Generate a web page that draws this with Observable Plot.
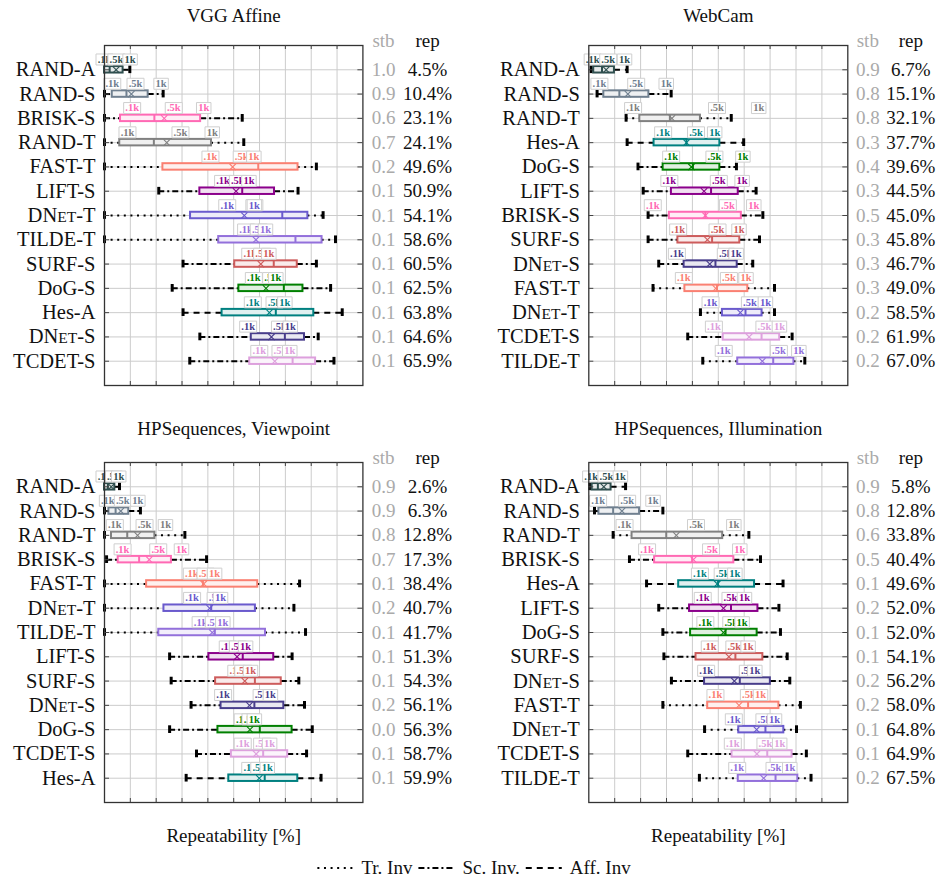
<!DOCTYPE html>
<html>
<head>
<meta charset="utf-8">
<script src="https://cdn.jsdelivr.net/npm/d3@7"></script>
<script src="https://cdn.jsdelivr.net/npm/@observablehq/plot@0.6"></script>
<style>
  html, body { margin: 0; padding: 0; background: #fff; }
  #fig { position: relative; width: 948px; height: 878px; font-family: "Liberation Serif", serif; }
  #fig svg { position: absolute; }
</style>
</head>
<body>
<div id="fig"></div>
<script>
// ---------- method colours ----------
const methodNames  = ["RAND-A","RAND-S","RAND-T","BRISK-S","FAST-T","LIFT-S","DNet-T","TILDE-T","SURF-S","DoG-S","Hes-A","DNet-S","TCDET-S"];
const methodColors = ["#2f4f4f","#708090","#808080","#ff69b4","#fa8072","#8b008b","#6a5acd","#9370db","#cd5c5c","#008000","#008080","#483d8b","#dda0dd"];

// ---------- VGG Affine ----------
const vggMethods = ["RAND-A","RAND-S","BRISK-S","RAND-T","FAST-T","LIFT-S","DNet-T","TILDE-T","SURF-S","DoG-S","Hes-A","DNet-S","TCDET-S"];
const vggLow  = [0, 0, 0, 0, 0, 21.0, 0, 0, 30.4, 26.2, 30.4, 36.9, 33.0];
const vggQ1   = [0, 3.0, 6.2, 5.9, 22.6, 36.9, 33.3, 44.2, 50.4, 52.0, 45.5, 56.8, 56.2];
const vggMed  = [2.0, 8.5, 19.3, 19.1, 59.5, 53.3, 68.8, 73.9, 65.5, 69.4, 66.3, 69.8, 72.8];
const vggQ3   = [7.2, 16.9, 37.2, 41.4, 74.9, 65.8, 78.7, 84.2, 74.6, 76.8, 81.0, 77.4, 81.7];
const vggHigh = [9.8, 22.7, 53.3, 53.9, 82.0, 74.9, 84.6, 89.4, 82.0, 87.5, 92.0, 82.7, 88.8];
const vggK01  = [0, 3.0, 10.7, 8.9, 41.0, 45.9, 47.5, 54.8, 56.4, 57.8, 57.4, 55.6, 59.9];
const vggK05  = [4.6, 12.0, 26.8, 29.4, 53.1, 51.6, 58.0, 59.7, 61.0, 64.5, 65.8, 67.9, 68.1];
const vggK10  = [9.9, 21.9, 38.4, 41.7, 57.8, 55.9, 58.0, 62.3, 63.6, 66.3, 69.8, 71.9, 71.7];
const vggStb  = [1.0, 0.9, 0.6, 0.7, 0.2, 0.1, 0.1, 0.1, 0.1, 0.1, 0.1, 0.1, 0.1];
const vggRep  = [4.5, 10.4, 23.1, 24.1, 49.6, 50.9, 54.1, 58.6, 60.5, 62.5, 63.8, 64.6, 65.9];

// ---------- WebCam ----------
const webMethods = ["RAND-A","RAND-S","RAND-T","Hes-A","DoG-S","LIFT-S","BRISK-S","SURF-S","DNet-S","FAST-T","DNet-T","TCDET-S","TILDE-T"];
const webLow  = [0.9, 3.2, 14.4, 14.8, 19.0, 21.0, 22.9, 22.9, 27.0, 24.8, 43.1, 38.2, 44.0];
const webQ1   = [1.9, 5.8, 19.7, 25.2, 28.7, 31.9, 31.1, 34.4, 36.8, 37.1, 51.6, 51.9, 57.5];
const webMed  = [5.1, 11.8, 31.3, 37.7, 40.2, 47.2, 45.0, 47.6, 48.9, 49.5, 60.5, 66.7, 71.2];
const webQ3   = [9.9, 23.2, 43.1, 50.6, 50.6, 57.7, 58.9, 58.3, 57.3, 61.4, 66.9, 73.7, 79.2];
const webHigh = [14.8, 31.8, 55.0, 59.8, 57.0, 64.6, 67.2, 65.9, 63.3, 71.7, 71.7, 78.5, 83.4];
const webK01  = [1.5, 4.1, 17.1, 28.7, 31.8, 31.1, 24.7, 34.5, 34.0, 36.7, 47.0, 48.3, 52.1];
const webK05  = [7.5, 18.3, 49.5, 41.4, 48.5, 50.2, 53.7, 49.7, 52.9, 54.1, 62.2, 67.8, 73.4];
const webK10  = [13.8, 29.9, 65.6, 48.6, 59.5, 59.2, 63.7, 58.0, 56.9, 60.7, 68.2, 73.6, 81.1];
const webStb  = [0.9, 0.8, 0.8, 0.3, 0.4, 0.3, 0.5, 0.3, 0.3, 0.3, 0.2, 0.2, 0.2];
const webRep  = [6.7, 15.1, 32.1, 37.7, 39.6, 44.5, 45.0, 45.8, 46.7, 49.0, 58.5, 61.9, 67.0];

// ---------- HPSequences, Viewpoint ----------
const vpMethods = ["RAND-A","RAND-S","RAND-T","BRISK-S","FAST-T","DNet-T","TILDE-T","LIFT-S","SURF-S","DNet-S","DoG-S","TCDET-S","Hes-A"];
const vpLow  = [0, 0, 0, 0.8, 0, 0, 0, 25.2, 25.8, 33.5, 25.2, 35.6, 31.6];
const vpQ1   = [0, 1.7, 2.7, 5.3, 16.3, 23.0, 21.0, 40.4, 43.0, 45.1, 43.9, 49.1, 48.1];
const vpMed  = [1.3, 4.3, 8.8, 13.4, 38.1, 41.3, 42.7, 53.5, 58.2, 58.0, 60.1, 61.4, 62.0];
const vpQ3   = [4.0, 9.4, 19.5, 25.9, 59.3, 58.4, 62.3, 65.5, 68.4, 69.4, 72.6, 70.9, 74.8];
const vpHigh = [5.8, 13.9, 31.1, 39.5, 75.5, 73.3, 77.8, 72.6, 75.2, 77.4, 80.4, 78.2, 83.8];
const vpK01  = [0, 1.3, 4.0, 7.0, 33.8, 33.9, 37.2, 47.7, 51.0, 45.9, 53.5, 53.5, 56.4];
const vpK05  = [3.6, 7.1, 15.5, 20.8, 39.1, 43.0, 42.3, 51.6, 53.7, 60.8, 56.5, 61.0, 59.9];
const vpK10  = [5.5, 12.9, 23.6, 29.8, 42.6, 44.9, 45.8, 54.6, 56.5, 64.2, 58.0, 63.9, 63.0];
const vpStb  = [0.9, 0.9, 0.8, 0.7, 0.1, 0.2, 0.1, 0.1, 0.1, 0.2, 0.0, 0.1, 0.1];
const vpRep  = [2.6, 6.3, 12.8, 17.3, 38.4, 40.7, 41.7, 51.3, 54.3, 56.1, 56.3, 58.7, 59.9];

// ---------- HPSequences, Illumination ----------
const ilMethods = ["RAND-A","RAND-S","RAND-T","BRISK-S","Hes-A","LIFT-S","DoG-S","SURF-S","DNet-S","FAST-T","DNet-T","TCDET-S","TILDE-T"];
const ilLow  = [0.3, 2.2, 9.4, 15.7, 22.3, 27.0, 28.6, 29.0, 31.9, 28.6, 44.7, 38.2, 42.7];
const ilQ1   = [1.3, 3.9, 16.7, 25.4, 34.7, 38.9, 39.3, 41.4, 44.7, 45.9, 57.9, 55.3, 57.7];
const ilMed  = [3.5, 9.4, 29.9, 39.9, 49.9, 54.9, 52.8, 56.6, 58.3, 61.5, 68.2, 68.9, 72.1];
const ilQ3   = [8.6, 19.6, 51.7, 56.0, 64.0, 65.3, 65.0, 67.2, 70.1, 73.4, 75.3, 78.5, 80.7];
const ilHigh = [14.2, 28.6, 61.8, 66.3, 75.0, 73.4, 74.0, 76.6, 77.6, 81.7, 80.2, 84.0, 85.8];
const ilK01  = [0.9, 3.6, 13.8, 22.5, 42.9, 44.0, 45.0, 46.7, 45.3, 48.9, 56.0, 55.6, 57.3];
const ilK05  = [6.8, 14.8, 41.4, 47.2, 51.7, 54.7, 55.0, 56.2, 61.4, 61.8, 67.8, 68.2, 71.7];
const ilK10  = [12.2, 24.8, 56.0, 58.3, 56.4, 60.1, 59.2, 61.5, 64.1, 66.3, 71.7, 73.7, 77.6];
const ilStb  = [0.9, 0.8, 0.6, 0.5, 0.1, 0.2, 0.1, 0.1, 0.2, 0.2, 0.1, 0.1, 0.2];
const ilRep  = [5.8, 12.8, 33.8, 40.4, 49.6, 52.0, 52.0, 54.1, 56.2, 58.0, 64.8, 64.9, 67.5];

const labelTexts = [".1k", ".5k", "1k"];
const legendItems = ["Tr. Inv", "Sc. Inv.", "Aff. Inv"];
const xGridTicks = [10, 20, 30, 40, 50, 60, 70, 80, 90];

// ---------- helpers ----------
const colorOf = m => methodColors[methodNames.indexOf(m)];
const tintOf = m => d3.interpolateRgb(colorOf(m), "#ffffff")(0.88);
const dashOf = {T: "2,4.6", S: "6,3,2,3", A: "6,5"};
const kindOf = m => m.slice(-1);
const rectSym = (w, h) => ({draw(ctx) { ctx.rect(-w / 2, -h / 2, w, h); }});
const FONT = "Liberation Serif";

function makePanel(cfg) {
  const rows = cfg.methods.map((m, i) => ({
    m, lo: cfg.low[i], q1: cfg.q1[i], med: cfg.med[i], q3: cfg.q3[i], hi: cfg.high[i],
    k0: cfg.k01[i], k1: cfg.k05[i], k2: cfg.k10[i], stb: cfg.stb[i], rep: cfg.rep[i],
    color: colorOf(m), tint: tintOf(m)
  }));
  const frameW = cfg.width - cfg.marginLeft - cfg.marginRight;
  const frameH = cfg.height - cfg.marginTop - cfg.marginBottom;
  const whiskers = [];
  for (const k of ["T", "S", "A"]) {
    const sub = rows.filter(r => kindOf(r.m) === k);
    whiskers.push(Plot.ruleY(sub, {y: "m", x1: "lo", x2: "q1", stroke: "#000", strokeWidth: 2, strokeDasharray: dashOf[k]}));
    whiskers.push(Plot.ruleY(sub, {y: "m", x1: "q3", x2: "hi", stroke: "#000", strokeWidth: 2, strokeDasharray: dashOf[k]}));
  }
  const labels = [];
  const keys = ["k0", "k1", "k2"];
  const widths = [17, 17, 14.5];
  keys.forEach((key, j) => {
    labels.push(Plot.dot(rows, {x: key, y: "m", dy: -10.3, symbol: rectSym(widths[j], 11), fill: "#fff", stroke: "#cfcfcf", strokeWidth: 1}));
    labels.push(Plot.text(rows, {x: key, y: "m", dy: -10.3, text: () => labelTexts[j], fill: "color", fontSize: 10.5, fontWeight: "bold", lineAnchor: "middle"}));
  });
  const marks = [
    Plot.ruleX(xGridTicks, {x: d => d, stroke: "#cccccc", strokeWidth: 1}),
    Plot.ruleY(cfg.methods, {y: d => d, stroke: "#cccccc", strokeWidth: 1}),
    ...whiskers,
    Plot.tickX(rows, {x: "lo", y: "m", stroke: "#000", strokeWidth: 3, insetTop: -0.6, insetBottom: -0.6}),
    Plot.tickX(rows, {x: "hi", y: "m", stroke: "#000", strokeWidth: 3, insetTop: -0.6, insetBottom: -0.6}),
    Plot.barX(rows, {y: "m", x1: "q1", x2: "q3", fill: "tint", stroke: "color", strokeWidth: 2}),
    Plot.tickX(rows, {x: "med", y: "m", stroke: "color", strokeWidth: 2}),
    Plot.dot(rows, {x: "rep", y: "m", symbol: "times", r: 3, stroke: "color", strokeWidth: 1.1}),
    ...labels,
    Plot.frame({stroke: "#333", strokeWidth: 1.3}),
    Plot.ruleX(xGridTicks, {x: d => d, stroke: "#444", insetTop: frameH - 4}),
    Plot.ruleX(xGridTicks, {x: d => d, stroke: "#444", insetBottom: frameH - 4}),
    Plot.ruleY(cfg.methods, {y: d => d, stroke: "#444", insetRight: frameW - 5}),
    Plot.ruleY(cfg.methods, {y: d => d, stroke: "#444", insetLeft: frameW - 5}),
    Plot.text(rows, {y: "m", text: "m", frameAnchor: "left", textAnchor: "end", dx: -9, fontSize: 20.5, fill: "#111", lineAnchor: "middle"}),
    Plot.text(rows, {y: "m", text: d => d.stb.toFixed(1), frameAnchor: "right", dx: cfg.stbDx, textAnchor: "middle", fontSize: 19, fill: "#aaaaaa", lineAnchor: "middle"}),
    Plot.text(rows, {y: "m", text: d => d.rep.toFixed(1) + "%", frameAnchor: "right", dx: cfg.repDx, textAnchor: "middle", fontSize: 19, fill: "#111", lineAnchor: "middle"}),
    Plot.text(["stb"], {text: d => d, frameAnchor: "top-right", dx: cfg.stbDx, dy: 1.5, textAnchor: "middle", lineAnchor: "bottom", fontSize: 19, fill: "#aaaaaa"}),
    Plot.text(["rep"], {text: d => d, frameAnchor: "top-right", dx: cfg.repDx, dy: 1.5, textAnchor: "middle", lineAnchor: "bottom", fontSize: 19, fill: "#111"}),
    Plot.text([cfg.title], {text: d => d, frameAnchor: "top", dy: -cfg.titleGap, lineAnchor: "bottom", fontSize: 19, fill: "#111"})
  ];
  if (cfg.xlabel) {
    marks.push(Plot.text([cfg.xlabel], {text: d => d, frameAnchor: "bottom", dy: 33, lineAnchor: "middle", fontSize: 19, fill: "#111"}));
  }
  const svg = Plot.plot({
    width: cfg.width, height: cfg.height,
    marginLeft: cfg.marginLeft, marginRight: cfg.marginRight,
    marginTop: cfg.marginTop, marginBottom: cfg.marginBottom,
    x: {domain: [0, 100], axis: null},
    y: {type: "band", domain: cfg.methods, paddingInner: 0.733, paddingOuter: 0.8665, round: false, axis: null},
    color: {type: "identity"},
    style: {fontFamily: FONT, background: "transparent", overflow: "visible"},
    marks
  });
  // small caps for DNet
  svg.querySelectorAll("text").forEach(t => {
    const s = t.textContent;
    if (/^DNet-/.test(s)) {
      t.textContent = "";
      t.append("DN");
      const ts = document.createElementNS("http://www.w3.org/2000/svg", "tspan");
      ts.setAttribute("font-size", "15.5");
      ts.textContent = "ET";
      t.append(ts);
      t.append(s.slice(4));
    }
  });
  svg.style.left = cfg.left + "px";
  svg.style.top = cfg.top + "px";
  return svg;
}

const fig = document.getElementById("fig");
const leftCfg = {width: 474, marginLeft: 104, marginRight: 111.6, stbDx: 20.6, repDx: 64.6};
const rightCfg = {width: 474, marginLeft: 114.3, marginRight: 100.7, stbDx: 20, repDx: 63};
const topCfg = {height: 410, marginTop: 45, marginBottom: 25, top: 0, titleGap: 23.3};
const botCfg = {height: 430, marginTop: 45, marginBottom: 45, top: 417.3, titleGap: 28};

fig.append(makePanel({...leftCfg, ...topCfg, left: 0, title: "VGG Affine",
  methods: vggMethods, low: vggLow, q1: vggQ1, med: vggMed, q3: vggQ3, high: vggHigh,
  k01: vggK01, k05: vggK05, k10: vggK10, stb: vggStb, rep: vggRep}));
fig.append(makePanel({...rightCfg, ...topCfg, left: 474, title: "WebCam",
  methods: webMethods, low: webLow, q1: webQ1, med: webMed, q3: webQ3, high: webHigh,
  k01: webK01, k05: webK05, k10: webK10, stb: webStb, rep: webRep}));
fig.append(makePanel({...leftCfg, ...botCfg, left: 0, title: "HPSequences, Viewpoint", xlabel: "Repeatability [%]",
  methods: vpMethods, low: vpLow, q1: vpQ1, med: vpMed, q3: vpQ3, high: vpHigh,
  k01: vpK01, k05: vpK05, k10: vpK10, stb: vpStb, rep: vpRep}));
fig.append(makePanel({...rightCfg, ...botCfg, left: 474, title: "HPSequences, Illumination", xlabel: "Repeatability [%]",
  methods: ilMethods, low: ilLow, q1: ilQ1, med: ilMed, q3: ilQ3, high: ilHigh,
  k01: ilK01, k05: ilK05, k10: ilK10, stb: ilStb, rep: ilRep}));

// ---------- legend ----------
const leg = d3.select(fig).append("svg")
  .attr("width", 948).attr("height", 30)
  .style("left", "0px").style("top", "854px")
  .style("font-family", FONT);
const g = leg.append("g");
const dashes = [dashOf.T, dashOf.S, dashOf.A];
let cx = 0;
const cy = 14;
legendItems.forEach((label, i) => {
  g.append("line").attr("x1", cx).attr("x2", cx + 36).attr("y1", cy).attr("y2", cy)
    .attr("stroke", "#000").attr("stroke-width", 2).attr("stroke-dasharray", dashes[i]);
  cx += 44;
  const t = g.append("text").attr("x", cx).attr("y", cy + 6).attr("font-size", 19).attr("fill", "#111").text(label);
  cx += t.node().getComputedTextLength() + 6;
});
const totalW = cx - 6;
g.attr("transform", `translate(${474 - totalW / 2},0)`);
</script>
</body>
</html>
